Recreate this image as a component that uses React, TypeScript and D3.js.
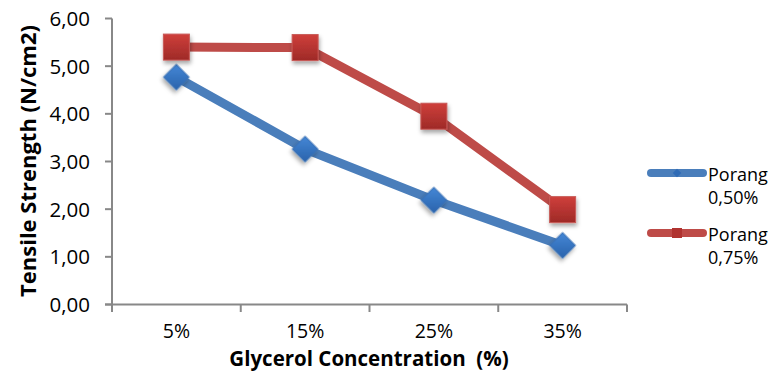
import React from "react";
import * as d3 from "d3";

const categories = ["5%", "15%", "25%", "35%"];
const porang050 = [4.77, 3.26, 2.19, 1.24];
const porang075 = [5.4, 5.39, 3.95, 1.99];
const yTicks = [0, 1, 2, 3, 4, 5, 6];
const seriesNames = [["Porang", "0,50%"], ["Porang", "0,75%"]];

const W = 770, H = 371;
const FONT = "'Open Sans', 'Noto Sans', sans-serif";

export default function App() {
  const x = d3.scaleBand<string>().domain(categories).range([112, 627]).padding(0);
  const y = d3.scaleLinear().domain([0, 6]).range([304.5, 18.5]);
  const cx = (c: string) => (x(c) as number) + x.bandwidth() / 2;
  const line = d3.line<number>().x((_, i) => cx(categories[i])).y((v) => y(v));
  const fmt = (v: number) => v.toFixed(2).replace(".", ",");
  const axisColor = "#888888";
  const blue = "#4A7EBB";
  const red = "#BE4B48";

  return (
    <svg width={W} height={H} style={{ position: "absolute", left: 0, top: 0, background: "#fff" }} fontFamily={FONT}>
      <defs>
        <linearGradient id="gRed" x1="0" y1="0" x2="0" y2="1">
          <stop offset="0" stopColor="#CF3F3B" />
          <stop offset="1" stopColor="#9E2A27" />
        </linearGradient>
        <linearGradient id="gBlue" x1="0" y1="0" x2="1" y2="1">
          <stop offset="0" stopColor="#4487D6" />
          <stop offset="1" stopColor="#2A63AC" />
        </linearGradient>
        <filter id="shadow" x="-50%" y="-50%" width="200%" height="200%">
          <feDropShadow dx="1" dy="3" stdDeviation="2" floodColor="#000" floodOpacity="0.35" />
        </filter>
      </defs>

      {/* axes */}
      <line x1={112} x2={112} y1={y(6)} y2={312} stroke={axisColor} strokeWidth={2} />
      <line x1={105} x2={627} y1={y(0)} y2={y(0)} stroke={axisColor} strokeWidth={2} />
      {yTicks.map((t) => (
        <g key={t}>
          <line x1={105} x2={112} y1={y(t)} y2={y(t)} stroke={axisColor} strokeWidth={2} />
          <text x={90} y={y(t)} dy="0.36em" textAnchor="end" fontSize={20.5} fill="#000">{fmt(t)}</text>
        </g>
      ))}
      {[...categories.map((c) => x(c) as number), 627].map((v, i) => (
        <line key={i} x1={v} x2={v} y1={y(0)} y2={312} stroke={axisColor} strokeWidth={2} />
      ))}
      {categories.map((c) => (
        <text key={c} x={cx(c)} y={338} textAnchor="middle" fontSize={19.5} fill="#000">{c}</text>
      ))}

      {/* axis titles */}
      <text x={369} y={365.5} textAnchor="middle" fontSize={20.5} fontWeight="bold" fill="#000">{"Glycerol Concentration\u00A0 (%)"}</text>
      <text transform={`translate(36,161) rotate(-90)`} textAnchor="middle" fontSize={22} fontWeight="bold" fill="#000">Tensile Strength (N/cm2)</text>

      {/* lines */}
      <path d={line(porang050) as string} fill="none" stroke={blue} strokeWidth={9} strokeLinejoin="round" />
      <path d={line(porang075) as string} fill="none" stroke={red} strokeWidth={9} strokeLinejoin="round" />

      {/* markers */}
      {porang050.map((v, i) => (
        <rect key={"b" + i} x={-9} y={-9} width={18} height={18} fill="url(#gBlue)" stroke="#3A70B5" strokeWidth={1}
          filter="url(#shadow)" transform={`translate(${cx(categories[i])},${y(v)}) rotate(45)`} />
      ))}
      {porang075.map((v, i) => (
        <rect key={"r" + i} x={cx(categories[i]) - 13} y={y(v) - 13} width={26} height={26} fill="url(#gRed)"
          stroke="#C85A57" strokeWidth={1} filter="url(#shadow)" />
      ))}

      {/* legend */}
      <line x1={651} x2={703} y1={173} y2={173} stroke={blue} strokeWidth={8} strokeLinecap="round" />
      <rect x={-3} y={-3} width={6} height={6} fill="#2F6BB5" transform="translate(677,173) rotate(45)" />
      <text x={708} y={181} fontSize={18} fill="#000">{seriesNames[0][0]}</text>
      <text x={708} y={204} fontSize={18} fill="#000">{seriesNames[0][1]}</text>

      <line x1={651} x2={703} y1={233} y2={233} stroke={red} strokeWidth={8} strokeLinecap="round" />
      <rect x={672} y={228} width={10} height={10} fill="#B03330" />
      <text x={708} y={241} fontSize={18} fill="#000">{seriesNames[1][0]}</text>
      <text x={708} y={264} fontSize={18} fill="#000">{seriesNames[1][1]}</text>
    </svg>
  );
}
